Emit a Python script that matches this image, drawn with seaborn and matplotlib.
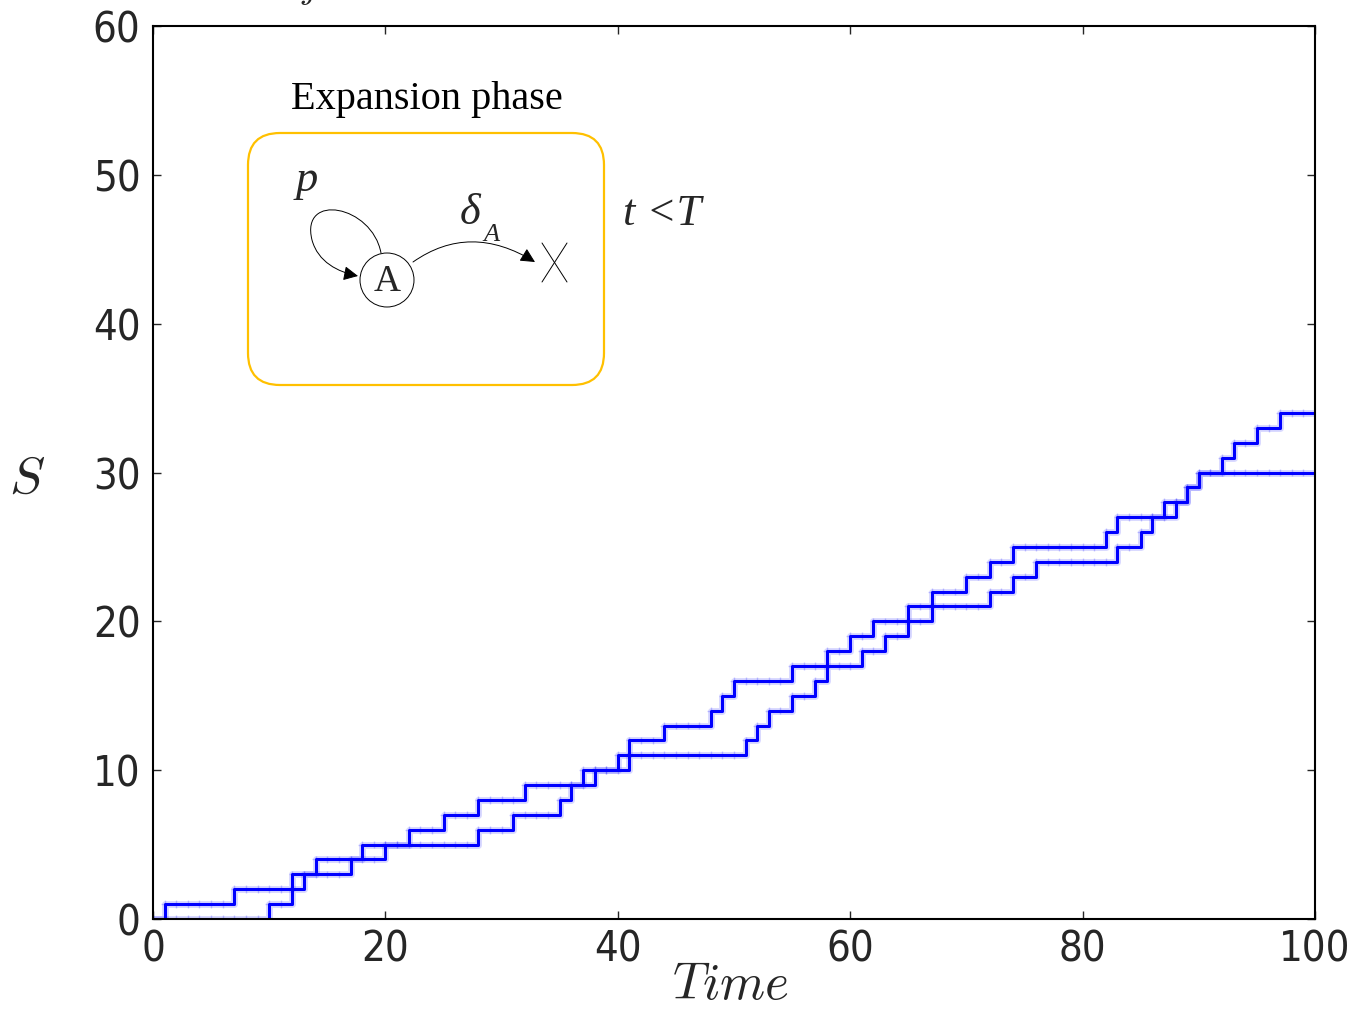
import numpy as np
import pandas as pd
import matplotlib
matplotlib.use('Agg')
import matplotlib.pyplot as plt
import seaborn as sns
from matplotlib.patches import FancyBboxPatch, Circle, FancyArrowPatch
from matplotlib.path import Path

# data: times at which each run gains one more species
time_grid = list(range(0, 101))
upper_jumps = [1, 7, 12, 14, 18, 22, 25, 28, 32, 37, 40, 41, 44, 48, 49, 50, 55,
               58, 60, 62, 65, 67, 70, 72, 74, 82, 83, 87, 89, 90, 92, 93, 95, 97]
lower_jumps = [10, 12, 13, 17, 20, 28, 31, 35, 36, 38, 41, 51, 52, 53, 55, 57, 58,
               61, 63, 65, 67, 72, 74, 76, 83, 85, 86, 88, 89, 90]
x_ticks = [0, 20, 40, 60, 80, 100]
y_ticks = [0, 10, 20, 30, 40, 50, 60]

t = np.array(time_grid)
s_up = np.searchsorted(np.sort(upper_jumps), t, side='right')
s_lo = np.searchsorted(np.sort(lower_jumps), t, side='right')
df = pd.DataFrame({
    'Time': np.concatenate([t, t]),
    'S': np.concatenate([s_up, s_lo]),
    'run': ['a'] * len(t) + ['b'] * len(t),
})

sns.set_theme(style='ticks', rc={
    'xtick.direction': 'in', 'ytick.direction': 'in',
    'xtick.top': True, 'ytick.right': True,
    'xtick.major.size': 6, 'ytick.major.size': 6,
    'xtick.major.width': 1.0, 'ytick.major.width': 1.0,
    'xtick.major.pad': 7, 'ytick.major.pad': 9,
    'axes.linewidth': 1.5, 'axes.edgecolor': 'black',
    'mathtext.fontset': 'cm',
})
plt.rcParams['font.family'] = ['DejaVu Sans']

fig = plt.figure(figsize=(13.52, 10.09), dpi=100)
ax = fig.add_axes([153 / 1352, 1 - 919 / 1009, 1162 / 1352, 893 / 1009])

blue = '#0000ff'
# faint halo under the steps
sns.lineplot(data=df, x='Time', y='S', hue='run', palette=[blue, blue],
             drawstyle='steps-post', linewidth=5, alpha=0.15, legend=False, ax=ax)
sns.scatterplot(data=df, x='Time', y='S', hue='run', palette=[blue, blue],
                marker='+', s=30, linewidth=1, alpha=0.2, legend=False, ax=ax)
sns.lineplot(data=df, x='Time', y='S', hue='run', palette=[blue, blue],
             drawstyle='steps-post', linewidth=2.2, legend=False, ax=ax)

ax.set_xlim(0, 100)
ax.set_ylim(0, 60)
ax.set_xticks(x_ticks)
ax.set_yticks(y_ticks)
tick_font = dict(family='DejaVu Sans', stretch='condensed', size=30)
ax.set_xticklabels([str(v) for v in x_ticks], fontdict=tick_font)
ax.set_yticklabels([str(v) for v in y_ticks], fontdict=tick_font)
for sp in ax.spines.values():
    sp.set_visible(True)

ax.set_xlabel(r'$Time$', fontsize=37)
ax.xaxis.set_label_coords(0.497, -0.074)
ax.xaxis.label.set_va('center')
ax.set_ylabel(r'$S$', fontsize=38, rotation=0)
ax.yaxis.set_label_coords(-0.108, 0.494)
ax.yaxis.label.set_va('center')
ax.yaxis.label.set_ha('center')

# overlay in pixel coordinates for the schematic inset
ov = fig.add_axes([0, 0, 1, 1])
ov.set_xlim(0, 1352)
ov.set_ylim(1009, 0)
ov.axis('off')

serif = 'Liberation Serif'
ov.add_patch(FancyBboxPatch((248 + 32, 133 + 32), 356 - 64, 252 - 64,
                            boxstyle='round,pad=32', fill=False,
                            edgecolor='#FFC000', linewidth=1.6))
ov.text(427, 99, 'Expansion phase', family=serif, fontsize=29,
        ha='center', va='center', color='black')
ov.add_patch(Circle((387, 280), 27, fill=False, edgecolor='black', linewidth=0.7))
ov.text(387, 282, 'A', family=serif, fontsize=27, ha='center', va='center')

loop = Path([(381, 253), (372, 205), (300, 192), (312, 240),
             (318, 262), (338, 272), (358, 276)],
            [Path.MOVETO, Path.CURVE4, Path.CURVE4, Path.CURVE4,
             Path.CURVE4, Path.CURVE4, Path.CURVE4])
ov.add_patch(FancyArrowPatch(path=loop, arrowstyle='-|>', mutation_scale=22,
                             color='black', linewidth=0.7))
arc = Path([(413, 262), (470, 222), (535, 262)],
           [Path.MOVETO, Path.CURVE3, Path.CURVE3])
ov.add_patch(FancyArrowPatch(path=arc, arrowstyle='-|>', mutation_scale=22,
                             color='black', linewidth=0.7))
ov.plot([542, 567], [243, 282], color='black', linewidth=0.7)
ov.plot([542, 567], [282, 243], color='black', linewidth=0.7)

ov.text(307, 180, 'p', family=serif, style='italic', fontsize=32,
        ha='center', va='center')
ov.text(470, 213, 'δ', family=serif, style='italic', fontsize=32,
        ha='center', va='center')
ov.text(491, 235, 'A', family=serif, style='italic', fontsize=19,
        ha='center', va='center')
ov.text(662, 214, 't <T', family=serif, style='italic', fontsize=32,
        ha='center', va='center')
# the top of this formula is cut off by the figure edge in the original as well
ov.text(332, 7, r'$j\!=\!1$', fontsize=26, ha='center', va='bottom')

fig.savefig('out.png', dpi=100)
